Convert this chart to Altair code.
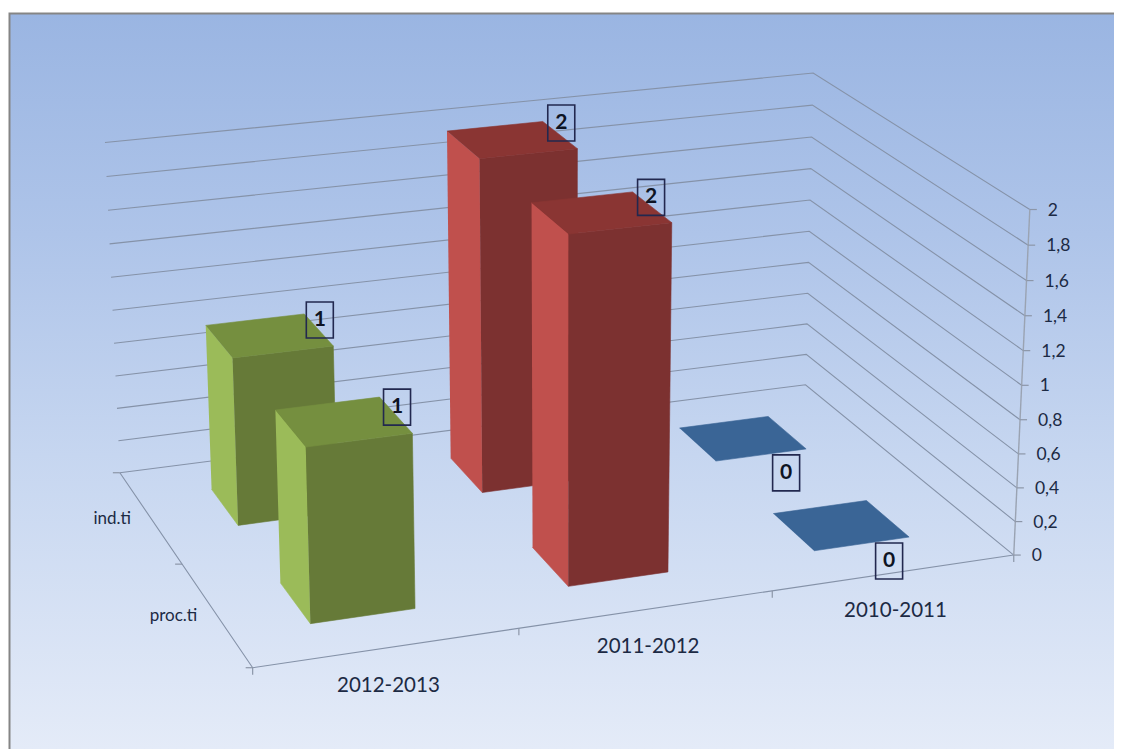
import numpy as np
import pandas as pd
import altair as alt

categories = ["2012-2013", "2011-2012", "2010-2011"]
series = ["ind.ti", "proc.ti"]
values_ind = [1, 2, 0]
values_proc = [1, 2, 0]
value_ticks = [0, 0.2, 0.4, 0.6, 0.8, 1, 1.2, 1.4, 1.6, 1.8, 2]
value_tick_labels = ["0", "0,2", "0,4", "0,6", "0,8", "1", "1,2", "1,4", "1,6", "1,8", "2"]

palette = [
    {"left": "#9BBB59", "front": "#667A38", "top": "#758F3F"},
    {"left": "#C0504D", "front": "#7C3130", "top": "#8A3533"},
    {"left": "#4F81BD", "front": "#2F5480", "top": "#3A6596"},
]

# camera: world (category, depth, value) -> picture position, calibrated on the chart box
calib = [((0, 2, 0), (120, 472.5)), ((0, 0, 0), (253, 667)), ((3, 0, 0), (1013, 554)),
         ((3, 2, 0), (806, 385)), ((3, 2, 2), (813, 73)), ((3, 0, 2), (1030, 209)),
         ((0, 2, 2), (105, 143)), ((1, 0, 0), (520, 630)), ((2, 0, 0), (772, 592)),
         ((0, 1, 0), (181, 563))]
A = []
for (X, Y, Z), (u, v) in calib:
    A.append([X, Y, Z, 1, 0, 0, 0, 0, -u * X, -u * Y, -u * Z, -u])
    A.append([0, 0, 0, 0, X, Y, Z, 1, -v * X, -v * Y, -v * Z, -v])
P = np.linalg.svd(np.array(A, float))[2][-1].reshape(3, 4)


def pr(x, y, z):
    p = P @ np.array([x, y, z, 1.0])
    return float(p[0] / p[2]), float(p[1] / p[2])


# faces of the bars, back series first so the front ones overlap
faces = []
labels = []
fid = 0
for d, (depth, vals) in enumerate([(1.5, values_ind), (0.5, values_proc)]):
    for c, v in enumerate(vals):
        x0, x1 = c + 0.3, c + 0.7
        y0, y1 = depth - 0.2, depth + 0.2
        quads = []
        if v > 0:
            quads.append(("left", [(x0, y1, 0), (x0, y0, 0), (x0, y0, v), (x0, y1, v)]))
            quads.append(("front", [(x0, y0, 0), (x1, y0, 0), (x1, y0, v), (x0, y0, v)]))
        quads.append(("top", [(x0, y0, v), (x1, y0, v), (x1, y1, v), (x0, y1, v)]))
        for name, q in quads:
            fid += 1
            for i, w in enumerate(q):
                px, py = pr(*w)
                faces.append({"face": f"f{fid:03d}", "i": i, "px": px, "py": py,
                              "col": palette[c][name]})
        if v > 0:
            ax, ay = pr(x1, y1, v)
            labels.append({"px": ax + 15.5 + 2 * d * (2 - v) + 3 * (v - 1),
                           "py": ay + 6 + 4 * d - 4.5 * (v - 1), "t": str(v)})
        else:
            ax, ay = pr(x1, y0, v)
            labels.append({"px": ax - 20, "py": ay + 24, "t": str(v)})

# grid on the two walls
grid = []
for k, v in enumerate(value_ticks):
    for i, w in enumerate([(0, 2, v), (3, 2, v), (3, 0, v)]):
        px, py = pr(*w)
        grid.append({"id": f"g{k}", "i": i, "px": px, "py": py})
for k, seg in enumerate([[(0, 2, 0), (0, 0, 0), (3, 0, 0)]]):
    for i, w in enumerate(seg):
        px, py = pr(*w)
        grid.append({"id": f"e{k}", "i": i, "px": px, "py": py})

# axis ticks
ticks = []
for k, v in enumerate(value_ticks):
    px, py = pr(3, 0, v)
    ticks += [{"id": f"v{k}", "i": 0, "px": px, "py": py}, {"id": f"v{k}", "i": 1, "px": px + 7, "py": py}]
for k in range(4):
    px, py = pr(k, 0, 0)
    ticks += [{"id": f"c{k}", "i": 0, "px": px, "py": py}, {"id": f"c{k}", "i": 1, "px": px, "py": py + 7}]
for k in range(3):
    px, py = pr(0, k, 0)
    ticks += [{"id": f"d{k}", "i": 0, "px": px, "py": py}, {"id": f"d{k}", "i": 1, "px": px - 7, "py": py}]
axis_line = []
for i, w in enumerate([(3, 0, 0), (3, 0, 2)]):
    px, py = pr(*w)
    axis_line.append({"i": i, "px": px, "py": py})

cat_text = []
for c, name in enumerate(categories):
    px, py = pr(c + 0.5, 0, 0)
    cat_text.append({"px": px + 1, "py": py + 38, "t": name})
dep_text = []
for s, name in enumerate(series):
    px, py = pr(0, 1.5 - s, 0)
    dep_text.append({"px": px - 19, "py": py + 2, "t": name})
val_text = []
for v, name in zip(value_ticks, value_tick_labels):
    px, py = pr(3, 0, v)
    val_text.append({"px": px + 18, "py": py + 1, "t": name})

xs = alt.Scale(domain=[8, 1114], nice=False, zero=False)
ys = alt.Scale(domain=[749, 8], nice=False, zero=False)
X = alt.X("px:Q", scale=xs, axis=None)
Y = alt.Y("py:Q", scale=ys, axis=None)
ORD = alt.Order("i:Q")

bg = alt.Chart(pd.DataFrame({"a": [9], "b": [1114], "c": [13], "d": [749]})).mark_rect(
    fill=alt.LinearGradient(gradient="linear", x1=0, x2=0, y1=0, y2=1, stops=[
        alt.GradientStop(offset=0, color="#9AB5E2"),
        alt.GradientStop(offset=0.3, color="#AEC4E9"),
        alt.GradientStop(offset=0.6, color="#C6D6F0"),
        alt.GradientStop(offset=1, color="#E4EBF8"),
    ])
).encode(x=alt.X("a:Q", scale=xs, axis=None), x2="b:Q", y=alt.Y("c:Q", scale=ys, axis=None), y2="d:Q")

frame = alt.Chart(pd.DataFrame({"i": [0, 1, 2], "px": [9.5, 9.5, 1114], "py": [749, 13.5, 13.5]})).mark_line(
    stroke="#858585", strokeWidth=2).encode(x=X, y=Y, order=ORD)

gridc = alt.Chart(pd.DataFrame(grid)).mark_line(stroke="#8592A8", strokeWidth=1.1).encode(
    x=X, y=Y, detail="id:N", order=ORD)
tickc = alt.Chart(pd.DataFrame(ticks)).mark_line(stroke="#8C96A8", strokeWidth=1.2).encode(
    x=X, y=Y, detail="id:N", order=ORD)
axisc = alt.Chart(pd.DataFrame(axis_line)).mark_line(stroke="#9AA3B2", strokeWidth=1.4).encode(
    x=X, y=Y, order=ORD)

barsc = alt.Chart(pd.DataFrame(faces)).mark_line(strokeWidth=0.6).encode(
    x=X, y=Y, detail="face:N", order=ORD,
    fill=alt.Fill("col:N", scale=None), stroke=alt.Stroke("col:N", scale=None))

FONT = "Lato"
TXT = "#1C2A44"


def text(rows, size, align="center", color=TXT, **kw):
    return alt.Chart(pd.DataFrame(rows)).mark_text(
        font=FONT, fontSize=size, align=align, baseline="middle", color=color, **kw
    ).encode(x=X, y=Y, text="t:N")


boxes = alt.Chart(pd.DataFrame(labels)).mark_rect(
    width=27, height=36, fillOpacity=0, stroke="#22284F", strokeWidth=1.6).encode(x=X, y=Y)
box_text = text(labels, 21, color="#0E1424", fontWeight="bold")

chart = alt.layer(
    bg, frame, gridc, axisc, tickc, barsc,
    text(cat_text, 20.5), text(dep_text, 17, align="right"), text(val_text, 17.5, align="left"),
    boxes, box_text,
).properties(width=1106, height=741, padding=0, autosize="none", background="white").configure_view(stroke=None)

chart.save("out.html", embed_options={"renderer": "svg", "actions": False})
